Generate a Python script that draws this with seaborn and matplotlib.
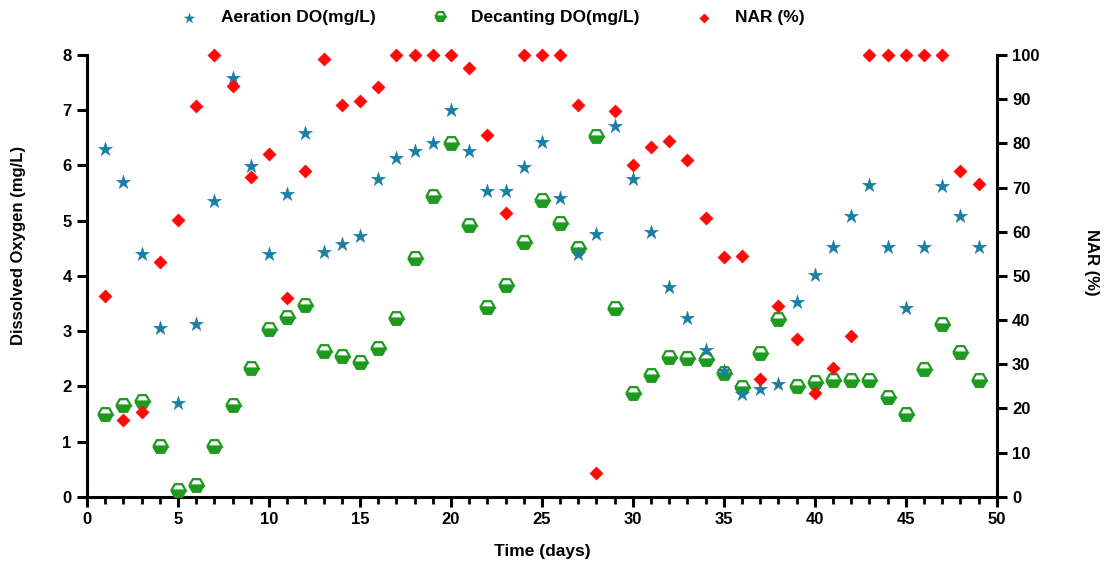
import numpy as np
import pandas as pd
import matplotlib
matplotlib.use("Agg")
import matplotlib.pyplot as plt
from matplotlib.ticker import MultipleLocator
import seaborn as sns

days = list(range(1, 50))

aeration_do = [6.30, 5.70, 4.40, 3.05, 1.69, 3.13, 5.36, 7.58, 5.99, 4.39,
               5.48, 6.58, 4.44, 4.58, 4.72, 5.76, 6.13, 6.27, 6.40, 7.01,
               6.27, 5.53, 5.53, 5.97, 6.42, 5.41, 4.39, 4.76, 6.72, 5.75,
               4.79, 3.80, 3.23, 2.66, 2.27, 1.86, 1.95, 2.05, 3.53, 4.02,
               4.52, 5.08, 5.64, 4.52, 3.42, 4.52, 5.62, 5.08, 4.52]

decanting_do = [1.49, 1.66, 1.73, 0.92, 0.12, 0.21, 0.92, 1.66, 2.34, 3.03,
                3.25, 3.48, 2.64, 2.55, 2.44, 2.70, 3.24, 4.33, 5.44, 6.40,
                4.93, 3.44, 3.83, 4.61, 5.38, 4.95, 4.51, 6.53, 3.41, 1.87,
                2.21, 2.53, 2.52, 2.50, 2.24, 1.98, 2.60, 3.22, 2.00, 2.07,
                2.12, 2.12, 2.11, 1.80, 1.50, 2.32, 3.13, 2.63, 2.12]

nar = [45.4, 17.4, 19.2, 53.2, 62.7, 88.5, 100, 93.1, 72.3, 77.7,
       44.9, 73.8, 99.1, 88.7, 89.7, 92.8, 100, 100, 100, 100,
       97.1, 81.9, 64.2, 100, 100, 100, 88.6, 5.3, 87.4, 75.2,
       79.2, 80.5, 76.2, 63.2, 54.2, 54.5, 26.6, 43.2, 35.6, 23.5,
       29.1, 36.5, 100, 100, 100, 100, 100, 73.8, 70.8]

df = pd.DataFrame({"day": days, "aer": aeration_do, "dec": decanting_do, "nar": nar})

sns.set_style("ticks")
plt.rcParams["font.family"] = ["Liberation Sans", "DejaVu Sans"]
plt.rcParams["font.weight"] = "bold"
for k in ["text.color", "axes.labelcolor", "xtick.color", "ytick.color", "axes.edgecolor"]:
    plt.rcParams[k] = "black"

fig = plt.figure(figsize=(11.1, 5.72), dpi=100)
ax = fig.add_axes([0.0784, 0.1316, 0.8196, 0.7722])
ax2 = ax.twinx()

teal = "#1b7fa3"
green = "#1e9a1e"
red = "#ff0a0a"

sns.lineplot(data=df, x="day", y="dec", ax=ax, linestyle="", marker="H",
             markersize=10.5, color=green, markeredgecolor=green,
             markeredgewidth=1.6, fillstyle="bottom",
             markerfacecoloralt="white", label="Decanting DO(mg/L)",
             legend=False, zorder=3, clip_on=False)
sns.scatterplot(data=df, x="day", y="aer", ax=ax, marker="*", s=115,
                color=teal, edgecolor=teal, linewidth=0.3,
                label="Aeration DO(mg/L)", legend=False, zorder=4, clip_on=False)
sns.scatterplot(data=df, x="day", y="nar", ax=ax2, marker="D", s=46,
                color=red, edgecolor=red, linewidth=0.3,
                label="NAR (%)", legend=False, zorder=4, clip_on=False)

ax.set_xlim(0, 50)
ax.set_ylim(0, 8)
ax2.set_ylim(0, 100)
ax.xaxis.set_major_locator(MultipleLocator(5))
ax.xaxis.set_minor_locator(MultipleLocator(1))
ax.yaxis.set_major_locator(MultipleLocator(1))
ax2.yaxis.set_major_locator(MultipleLocator(10))

for a in (ax, ax2):
    for s in a.spines.values():
        s.set_linewidth(2.2)
        s.set_color("black")
    a.spines["top"].set_visible(False)
ax.spines["right"].set_visible(False)
ax2.spines["left"].set_visible(False)
ax2.spines["bottom"].set_visible(False)

ax.tick_params(axis="both", which="major", length=7, width=2.2,
               labelsize=12, pad=4, colors="black")
ax.tick_params(axis="x", which="minor", length=5, width=2.0, colors="black")
ax2.tick_params(axis="y", which="major", length=7, width=2.2,
                labelsize=12, pad=4, colors="black")
for lab in ax.get_xticklabels() + ax.get_yticklabels() + ax2.get_yticklabels():
    lab.set_fontweight("bold")

ax.set_xlabel("Time (days)", fontsize=12.5, fontweight="bold", labelpad=12)
ax.set_ylabel("Dissolved Oxygen (mg/L)", fontsize=12, fontweight="bold")
ax.yaxis.set_label_coords(-0.067, 0.57)
ax2.set_ylabel("NAR (%)", fontsize=12, fontweight="bold", rotation=270,
               va="center")
ax2.yaxis.set_label_coords(1.104, 0.53)

h1, l1 = ax.get_legend_handles_labels()
h2, l2 = ax2.get_legend_handles_labels()
handles = dict(zip(l1 + l2, h1 + h2))
order = ["Aeration DO(mg/L)", "Decanting DO(mg/L)", "NAR (%)"]
fig.legend([handles[k] for k in order], order, loc="upper center",
           bbox_to_anchor=(0.443, 1.01), ncol=3, frameon=False,
           prop={"weight": "bold", "size": 12.5}, columnspacing=3.1,
           handletextpad=1.2, handlelength=1.2, markerscale=0.7)

fig.savefig("out.png", dpi=100)
